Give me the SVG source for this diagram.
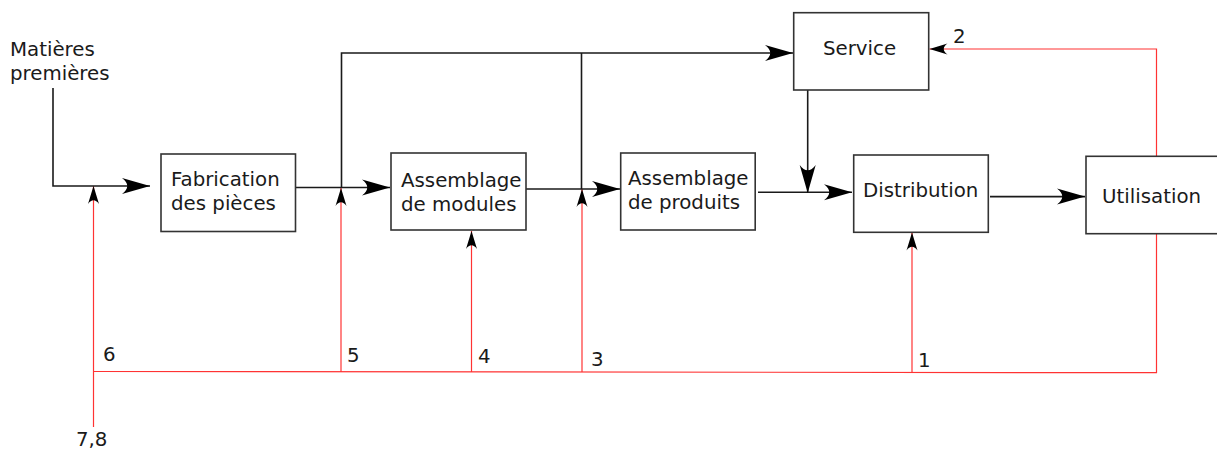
<svg xmlns="http://www.w3.org/2000/svg" width="1217" height="450" viewBox="0 0 1217 450">
<style>
.box{fill:#fff;stroke:#333;stroke-width:1.6}
.t{font-family:"DejaVu Sans","Liberation Sans",sans-serif;font-size:19.8px;fill:#1a1a1a}
.k{fill:none;stroke:#1a1a1a;stroke-width:1.6}
.r{fill:none;stroke:#ff3333;stroke-width:1.2}
</style>
<defs>
<marker id="big" markerUnits="userSpaceOnUse" orient="auto" refX="0" refY="0" markerWidth="40" markerHeight="20" viewBox="-30 -10 32 20" overflow="visible">
<path d="M0,0 L-28,-8 C-21,-3 -21,3 -28,8 Z" fill="#000"/>
</marker>
<marker id="small" markerUnits="userSpaceOnUse" orient="auto" refX="0" refY="0" markerWidth="30" markerHeight="14" viewBox="-20 -7 22 14" overflow="visible">
<path d="M0,0 L-18,-5.5 C-13,-2 -13,2 -18,5.5 Z" fill="#000"/>
</marker>
</defs>
<rect width="1217" height="450" fill="#fff"/>
<g id="connectors">
<path class="r" d="M93.5,427 V188"/>
<path class="r" d="M93.5,371.5 L1156.5,372.7 V234"/>
<path class="r" d="M341,372 V188" marker-end="url(#small)"/>
<path class="r" d="M471.5,372 V231" marker-end="url(#small)"/>
<path class="r" d="M582,372 V189" marker-end="url(#small)"/>
<path class="r" d="M912,372.5 V232.5" marker-end="url(#small)"/>
<path class="r" d="M1156.5,156 V49 H929.5" marker-end="url(#small)"/>
<path class="r" d="M93.5,200 V186" marker-end="url(#small)"/>
<path class="k" d="M53,88 V186 H150" marker-end="url(#big)"/>
<path class="k" d="M296,187.5 H390" marker-end="url(#big)"/>
<path class="k" d="M341.5,188 V53 H793" marker-end="url(#big)"/>
<path class="k" d="M581.5,189 V53"/>
<path class="k" d="M526,189 H620" marker-end="url(#big)"/>
<path class="k" d="M758,192.3 H852" marker-end="url(#big)"/>
<path class="k" d="M807.7,90 V193" marker-end="url(#big)"/>
<path class="k" d="M990,196.6 H1085" marker-end="url(#big)"/>
</g>
<g id="matieres">
<text class="t" x="10" y="56">Matières</text>
<text class="t" x="10" y="80">premières</text>
</g>
<g id="fabrication">
<rect class="box" x="161" y="154" width="134.5" height="77.5"/>
<text class="t" x="171" y="186">Fabrication</text>
<text class="t" x="171" y="210">des pièces</text>
</g>
<g id="modules">
<rect class="box" x="391" y="153" width="135" height="77"/>
<text class="t" x="401" y="186.5">Assemblage</text>
<text class="t" x="401" y="210.5">de modules</text>
</g>
<g id="produits">
<rect class="box" x="620.7" y="153" width="134.5" height="77"/>
<text class="t" x="628" y="185">Assemblage</text>
<text class="t" x="628" y="209.3">de produits</text>
</g>
<g id="service">
<rect class="box" x="793.7" y="12.7" width="135" height="77.3"/>
<text class="t" x="823" y="55">Service</text>
</g>
<g id="distribution">
<rect class="box" x="853.7" y="155" width="134.6" height="77.3"/>
<text class="t" x="863" y="197">Distribution</text>
</g>
<g id="utilisation">
<rect class="box" x="1086" y="156.3" width="140" height="77.4"/>
<text class="t" x="1102" y="203">Utilisation</text>
</g>
<g id="labels">
<text class="t" x="953" y="43">2</text>
<text class="t" x="103" y="361">6</text>
<text class="t" x="347" y="361.5">5</text>
<text class="t" x="478" y="363.3">4</text>
<text class="t" x="591" y="366">3</text>
<text class="t" x="918" y="366.7">1</text>
<text class="t" x="76" y="446">7,8</text>
</g>
</svg>
